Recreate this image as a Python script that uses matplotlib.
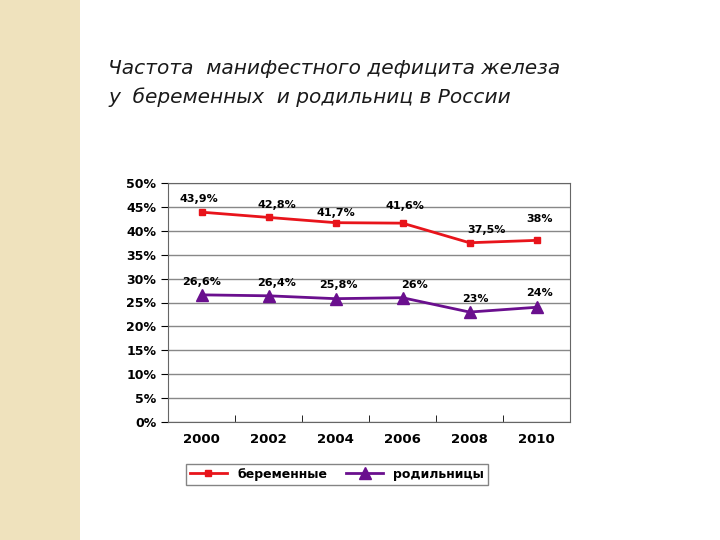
import matplotlib.pyplot as plt
from matplotlib.patches import Rectangle

years = ['2000', '2002', '2004', '2006', '2008', '2010']
pregnant = [43.9, 42.8, 41.7, 41.6, 37.5, 38.0]
postpartum = [26.6, 26.4, 25.8, 26.0, 23.0, 24.0]
preg_labels = ['43,9%', '42,8%', '41,7%', '41,6%', '37,5%', '38%']
post_labels = ['26,6%', '26,4%', '25,8%', '26%', '23%', '24%']
# label offsets in points (dx, dy)
preg_off = [(-2, 7), (6, 7), (0, 5), (2, 10), (12, 7), (2, 13)]
post_off = [(0, 7), (6, 7), (2, 8), (9, 7), (4, 7), (2, 8)]

fig = plt.figure(figsize=(7.2, 5.4), dpi=100)
fig.patches.append(Rectangle((0, 0), 80 / 720, 1, transform=fig.transFigure,
                             facecolor='#efe2bd', edgecolor='none'))

fig.text(108 / 720, 1 - 68 / 540, 'Частота  манифестного дефицита железа',
         fontsize=14.5, style='italic', color='#1a1a1a', va='center')
fig.text(108 / 720, 1 - 97 / 540, 'у  беременных  и родильниц в России',
         fontsize=14.5, style='italic', color='#1a1a1a', va='center')

ax = fig.add_axes([168 / 720, 1 - 422 / 540, 402 / 720, 239 / 540])
x = range(len(years))
ax.plot(x, pregnant, color='#e8141b', marker='s', markersize=5, lw=2, label='беременные')
ax.plot(x, postpartum, color='#6a0f8e', marker='^', markersize=8, lw=2, label='родильницы')

for i in x:
    ax.annotate(preg_labels[i], (i, pregnant[i]), xytext=preg_off[i], textcoords='offset points',
                ha='center', fontsize=8, fontweight='bold')
    ax.annotate(post_labels[i], (i, postpartum[i]), xytext=post_off[i], textcoords='offset points',
                ha='center', fontsize=8, fontweight='bold')

ax.set_xlim(-0.5, 5.5)
ax.set_ylim(0, 50)
ax.set_yticks(range(0, 51, 5))
ax.set_yticklabels([f'{v}%' for v in range(0, 51, 5)], fontsize=9, fontweight='bold')
ax.set_xticks(list(x))
ax.set_xticklabels(years, fontsize=9.5, fontweight='bold')
ax.xaxis.set_minor_locator(plt.FixedLocator([i + 0.5 for i in range(-1, 6)]))
ax.tick_params(axis='x', which='major', length=0, pad=8)
ax.tick_params(axis='x', which='minor', length=5, direction='in')
ax.tick_params(axis='y', length=5, direction='out')
ax.grid(axis='y', color='#888888', lw=1)
ax.set_axisbelow(True)
for s in ax.spines.values():
    s.set_color('#666666')

ax.legend(loc='upper center', bbox_to_anchor=(0.42, -0.15), ncol=2, frameon=True,
          fancybox=False, edgecolor='#666666', prop={'weight': 'bold', 'size': 9},
          handlelength=3, borderpad=0.3, columnspacing=1.5)

fig.savefig('out.png', dpi=100)
